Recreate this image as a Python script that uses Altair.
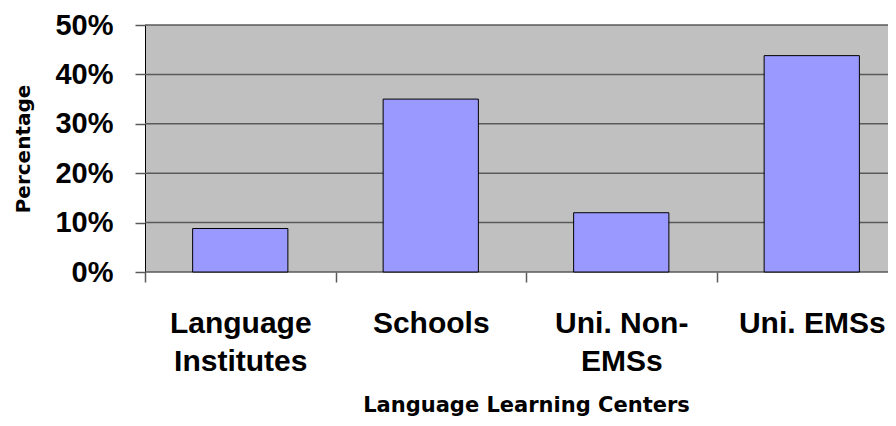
import altair as alt
import pandas as pd

categories = ["Language\nInstitutes", "Schools", "Uni. Non-\nEMSs", "Uni. EMSs"]
percentages = [0.088, 0.350, 0.120, 0.438]
y_ticks = [0.0, 0.1, 0.2, 0.3, 0.4, 0.5]

df = pd.DataFrame({"center": categories, "pct": percentages})
grid_df = pd.DataFrame({"pct": y_ticks})

LABEL_FONT = "Liberation Sans"
TITLE_FONT = "DejaVu Sans"
GRID = "#5a5a5a"
BAND = 190.5
W = 743
H = 247

y_scale = alt.Scale(domain=[0, 0.5], nice=False)

y_axis = alt.Axis(
    title="Percentage",
    titleFont=TITLE_FONT,
    titleFontSize=20,
    titleFontWeight="bold",
    titleColor="#000000",
    titlePadding=21,
    values=y_ticks,
    format=".0%",
    labelFont=LABEL_FONT,
    labelFontSize=29,
    labelFontWeight="bold",
    labelColor="#000000",
    labelPadding=22,
    tickSize=10,
    tickColor=GRID,
    tickWidth=1.5,
    domainColor="#000000",
    domainWidth=1,
    grid=False,
)

grid = (
    alt.Chart(grid_df)
    .mark_rule(color=GRID, strokeWidth=1.5)
    .encode(
        y=alt.Y("pct:Q", scale=y_scale, axis=y_axis),
        x=alt.value(0),
        x2=alt.value(W),
    )
)

bars = (
    alt.Chart(df)
    .mark_bar(color="#9999FF", stroke="#000000", strokeWidth=1)
    .encode(
        x=alt.X(
            "center:N",
            sort=categories,
            scale=alt.Scale(paddingInner=0.5, paddingOuter=0.25, range=[0, 4 * BAND]),
            axis=alt.Axis(
                title="Language Learning Centers",
                titleFont=TITLE_FONT,
                titleFontSize=21,
                titleFontWeight="bold",
                titleColor="#000000",
                titlePadding=18,
                titleX=4 * BAND / 2,
                labelExpr="split(datum.label, '\\n')",
                labelFont=LABEL_FONT,
                labelFontSize=30,
                labelFontWeight="bold",
                labelColor="#000000",
                labelAngle=0,
                labelPadding=26,
                labelLineHeight=38,
                labelBaseline="top",
                tickOffset=-BAND / 2,
                labelOffset=BAND / 2,
                tickSize=10,
                tickColor=GRID,
                tickWidth=1.5,
                domain=False,
                grid=False,
            ),
        ),
        y=alt.Y("pct:Q", scale=y_scale, axis=y_axis),
    )
)

chart = (
    alt.layer(grid, bars)
    .properties(
        width=W,
        height=H,
        background="#FFFFFF",
        autosize=alt.AutoSizeParams(type="none"),
        padding={"left": 137, "top": 17, "right": 0, "bottom": 146},
    )
    .configure_view(fill="#C0C0C0", strokeWidth=0)
)

chart.save("out.html", embed_options={"renderer": "svg", "actions": False})
